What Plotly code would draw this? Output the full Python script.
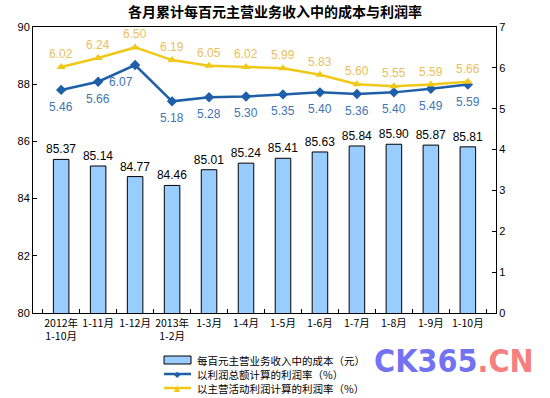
import plotly.graph_objects as go

categories = ["2012年<br>1-10月", "1-11月", "1-12月", "2013年<br>1-2月", "1-3月", "1-4月",
              "1-5月", "1-6月", "1-7月", "1-8月", "1-9月", "1-10月"]
cost = [85.37, 85.14, 84.77, 84.46, 85.01, 85.24, 85.41, 85.63, 85.84, 85.90, 85.87, 85.81]
profit_total = [5.46, 5.66, 6.07, 5.18, 5.28, 5.30, 5.35, 5.40, 5.36, 5.40, 5.49, 5.59]
profit_main = [6.02, 6.24, 6.50, 6.19, 6.05, 6.02, 5.99, 5.83, 5.60, 5.55, 5.59, 5.66]

name_bar = "每百元主营业务收入中的成本（元）"
name_total = "以利润总额计算的利润率（%）"
name_main = "以主营活动利润计算的利润率（%）"

FONT = "Liberation Sans, Arial, sans-serif"
CJK = "Noto Sans CJK SC, sans-serif"
BLUE = "#1F5FA8"
YELLOW = "#F0C818"
BARC = "#99CCFF"

W, H = 550, 398
L, T, R, B = 33, 27, 550 - 496, 398 - 313
PW, PH = W - L - R, H - T - B


def px(x):
    return (x - L) / PW


def py(y):
    return (H - B - y) / PH


fig = go.Figure()
fig.add_trace(go.Bar(
    x=categories, y=cost, name=name_bar, width=0.42,
    marker=dict(color=BARC, line=dict(color="#000000", width=1)),
    text=[f"{v:.2f}" for v in cost], textposition="outside", cliponaxis=False,
    constraintext="none",
    textfont=dict(family=FONT, size=12, color="#000000"),
))
fig.add_trace(go.Scatter(
    x=categories, y=profit_total, name=name_total, yaxis="y2",
    mode="lines+markers",
    line=dict(color=BLUE, width=2.5),
    marker=dict(symbol="diamond", size=8, color=BLUE),
    cliponaxis=False,
))
fig.add_trace(go.Scatter(
    x=categories, y=profit_main, name=name_main, yaxis="y2",
    mode="lines+markers",
    line=dict(color=YELLOW, width=2.5),
    marker=dict(symbol="triangle-up", size=8, color=YELLOW),
    cliponaxis=False,
))

# line value labels
for i, (c, v) in enumerate(zip(categories, profit_total)):
    fig.add_annotation(x=c, y=v, xref="x", yref="y2", text=f"{v:.2f}", showarrow=False,
                       yshift=-17, xshift=(-14 if i == 2 else 0),
                       font=dict(family=FONT, size=12, color="#3F75B0"))
for c, v in zip(categories, profit_main):
    fig.add_annotation(x=c, y=v, xref="x", yref="y2", text=f"{v:.2f}", showarrow=False,
                       yshift=13, font=dict(family=FONT, size=12, color="#E8C060"))

fig.update_layout(
    width=W, height=H,
    margin=dict(l=L, r=R, t=T, b=B, autoexpand=False),
    paper_bgcolor="white", plot_bgcolor="white",
    title=dict(text="<b>各月累计每百元主营业务收入中的成本与利润率</b>",
               x=275 / W, xanchor="center",
               yref="container", y=1 - 12 / H, yanchor="middle",
               font=dict(family=CJK, size=14, color="#000000")),
    showlegend=False,
    bargap=0.58,
    xaxis=dict(type="category", showline=True, linecolor="#000000", linewidth=1, mirror=True,
               ticks="inside", ticklen=4, tickcolor="#000000", tickson="boundaries",
               tickfont=dict(family=CJK, size=10.5, color="#000000"), showgrid=False,
               tickangle=0, automargin=False),
    yaxis=dict(range=[80, 90], dtick=2, showline=True, linecolor="#000000", linewidth=1,
               ticks="inside", ticklen=4, tickcolor="#000000", showgrid=False, zeroline=False,
               tickfont=dict(family=FONT, size=11, color="#000000"), automargin=False),
    yaxis2=dict(range=[0, 7], dtick=1, overlaying="y", side="right", showline=True,
                linecolor="#000000", linewidth=1, ticks="inside", ticklen=4, tickcolor="#000000",
                showgrid=False, zeroline=False, automargin=False,
                tickfont=dict(family=FONT, size=11, color="#000000")),
)

# manual legend (symbols + labels)
leg_x0, leg_x1, leg_tx = 164, 191, 195
rows = [360, 374, 388]
fig.add_shape(type="rect", xref="paper", yref="paper",
              x0=px(leg_x0), x1=px(leg_x1), y0=py(rows[0] + 4), y1=py(rows[0] - 4),
              fillcolor=BARC, line=dict(color="#000000", width=1))
for yy, col, sym in [(rows[1], BLUE, "◆"), (rows[2], YELLOW, "▲")]:
    fig.add_shape(type="line", xref="paper", yref="paper",
                  x0=px(leg_x0), x1=px(leg_x1), y0=py(yy), y1=py(yy),
                  line=dict(color=col, width=2.5))
    fig.add_annotation(xref="paper", yref="paper", x=px((leg_x0 + leg_x1) / 2), y=py(yy),
                       text=sym, showarrow=False, xanchor="center", yanchor="middle",
                       font=dict(family="DejaVu Sans", size=8, color=col))
for yy, name in zip(rows, [name_bar, name_total, name_main]):
    fig.add_annotation(xref="paper", yref="paper", x=px(leg_tx), y=py(yy),
                       text=name, showarrow=False, xanchor="left", yanchor="middle",
                       font=dict(family=CJK, size=10.5, color="#000000"))

# watermark
fig.add_annotation(xref="paper", yref="paper", x=px(372), y=py(361),
                   xanchor="left", yanchor="middle", showarrow=False,
                   text="<b><span style='color:rgba(90,90,240,0.85)'>CK365</span>"
                        "<span style='color:rgba(245,110,110,0.9)'>.CN</span></b>",
                   font=dict(family="DejaVu Sans Condensed, DejaVu Sans, sans-serif", size=32))

fig.write_html("out.html", config={"displayModeBar": False},
               post_script="document.body.style.margin='0';document.body.style.overflow='hidden';")
